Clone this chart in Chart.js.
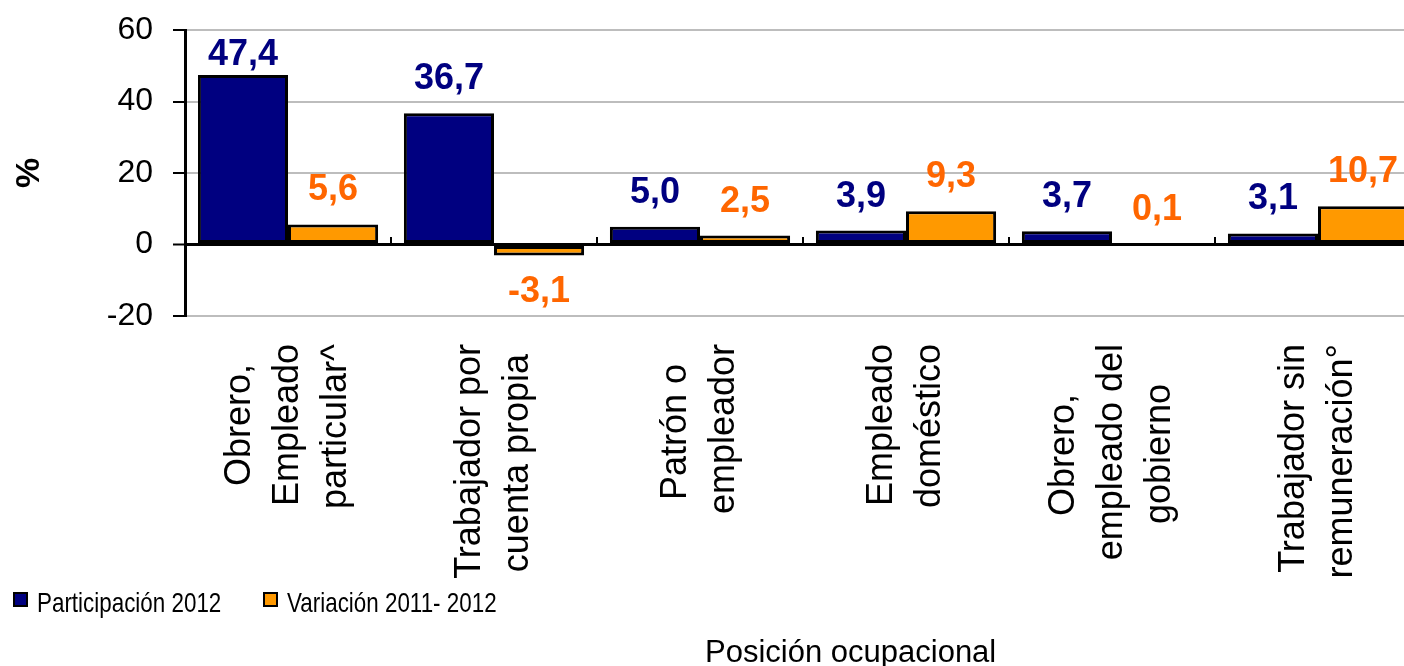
<!DOCTYPE html>
<html>
<head>
<meta charset="utf-8">
<script src="https://cdn.jsdelivr.net/npm/chart.js@4.4.0/dist/chart.umd.min.js"></script>
<style>
html, body { margin: 0; padding: 0; background: #fff; overflow: hidden; }
#wrap { position: relative; width: 1430px; height: 666px; }
#legend { position: absolute; left: 0; top: 590px; font-family: 'Liberation Sans', Arial, sans-serif; font-size: 28px; line-height: 28px; color: #000; white-space: nowrap; }
.item { position: absolute; top: 0; }
.box { position: absolute; top: 2px; left: 0; width: 15px; height: 15px; box-sizing: border-box; border: 2px solid #000; }
.lbl { position: absolute; left: 24px; top: -1px; transform: scaleX(0.8); transform-origin: 0 0; }
#xtitle { position: absolute; left: 705px; top: 636px; font-family: 'Liberation Sans', Arial, sans-serif; font-size: 31px; line-height: 31px; color: #000; white-space: nowrap; }
</style>
</head>
<body>
<div id="wrap">
  <canvas id="chart"></canvas>
  <div id="legend"></div>
  <div id="xtitle">Posición ocupacional</div>
</div>
<script>
// data
var categories = [
  ['Obrero,', 'Empleado', 'particular^'],
  ['Trabajador por', 'cuenta propia'],
  ['Patrón o', 'empleador'],
  ['Empleado', 'doméstico'],
  ['Obrero,', 'empleado del', 'gobierno'],
  ['Trabajador sin', 'remuneración°']
];
var participacion = [47.4, 36.7, 5.0, 3.9, 3.7, 3.1];
var variacion = [5.6, -3.1, 2.5, 9.3, 0.1, 10.7];
var seriesNames = ['Participación 2012', 'Variación 2011- 2012'];
var barColors = ['#000080', '#FF9900'];
var labelColors = ['#000080', '#FF6600'];
var legendX = [13, 263];

var FONT = '"Liberation Sans", Arial, sans-serif';

// legend
var legend = document.getElementById('legend');
seriesNames.forEach(function(name, i){
    var item = document.createElement('div');
    item.className = 'item';
    item.style.left = legendX[i] + 'px';
    var box = document.createElement('div');
    box.className = 'box';
    box.style.background = barColors[i];
    var lbl = document.createElement('div');
    lbl.className = 'lbl';
    lbl.textContent = name;
    item.appendChild(box);
    item.appendChild(lbl);
    legend.appendChild(item);
});

// pad lines with spaces so rotated multi-line labels look centred
var measure = document.createElement('canvas').getContext('2d');
measure.font = '36px ' + FONT;
function centerLines(lines){
    var widths = lines.map(function(l){ return measure.measureText(l).width; });
    var max = Math.max.apply(null, widths);
    var sp = measure.measureText(' ').width;
    return lines.map(function(l, k){
        return l + ' '.repeat(Math.round((max - widths[k]) / 2 / sp));
    });
}

function labelAxis(nLines, offset){
    return {
        type: 'category',
        position: {y: -20},
        offset: true,
        grid: {display: false, drawTicks: false, offset: true},
        border: {display: false},
        ticks: {
            autoSkip: false,
            minRotation: 90,
            maxRotation: 90,
            padding: 28,
            labelOffset: offset,
            color: '#000',
            font: {family: FONT, size: 36, lineHeight: '48px'},
            callback: function(value, index){
                var l = categories[index];
                return l.length === nLines ? centerLines(l) : '';
            }
        },
        afterFit: function(scale){ scale.paddingLeft = 0; scale.paddingRight = 0; }
    };
}

var valueLabels = {
    id: 'valueLabels',
    afterDatasetsDraw: function(chart){
        var ctx = chart.ctx;
        var top = chart.chartArea.top;
        ctx.save();
        ctx.font = 'bold 36px ' + FONT;
        ctx.textAlign = 'center';
        ctx.textBaseline = 'alphabetic';
        chart.data.datasets.forEach(function(ds, i){
            var meta = chart.getDatasetMeta(i);
            ctx.fillStyle = labelColors[i];
            meta.data.forEach(function(bar, j){
                var v = ds.data[j];
                var y = v >= 0 ? Math.max(bar.y - 24, top + 35) : bar.y + 46;
                ctx.fillText(v.toFixed(1).replace('.', ','), bar.x, y);
            });
        });
        ctx.restore();
    }
};

var ctx = document.getElementById('chart').getContext('2d');
var chart = new Chart(ctx, {
    type: 'bar',
    data: {
        labels: categories,
        datasets: [{
            label: seriesNames[0],
            data: participacion,
            backgroundColor: barColors[0],
            borderColor: '#000',
            borderWidth: 3,
            borderSkipped: false,
            categoryPercentage: 0.875,
            barPercentage: 1,
            xAxisID: 'x',
            yAxisID: 'y'
        }, {
            label: seriesNames[1],
            data: variacion,
            backgroundColor: barColors[1],
            borderColor: '#000',
            borderWidth: 3,
            borderSkipped: false,
            categoryPercentage: 0.875,
            barPercentage: 1,
            xAxisID: 'x',
            yAxisID: 'y'
        }]
    },
    options: {
        responsive: true,
        maintainAspectRatio: false,
        animation: false,
        layout: {padding: {top: 30, right: 9, bottom: 350, left: 0}},
        plugins: {
            legend: {display: false},
            tooltip: {enabled: false}
        },
        scales: {
            x: {
                type: 'category',
                position: 'bottom',
                offset: true,
                grid: {display: false, drawTicks: false, offset: true},
                border: {display: false},
                ticks: {display: false}
            },
            xt: {
                type: 'category',
                position: {y: 0},
                offset: true,
                grid: {display: true, offset: true, drawOnChartArea: false, drawTicks: true,
                       tickLength: -8, color: '#000', lineWidth: 2},
                border: {display: false},
                ticks: {display: false}
            },
            xl3: labelAxis(3, -48),
            xl2: labelAxis(2, -24),
            y: {
                position: 'left',
                min: -20,
                max: 60,
                ticks: {stepSize: 20, padding: 20, color: '#000', font: {family: FONT, size: 32}},
                grid: {
                    color: function(c){ return c.tick && c.tick.value === 0 ? '#000' : '#bdbdbd'; },
                    lineWidth: function(c){ return c.tick && c.tick.value === 0 ? 3 : 2; },
                    tickColor: '#000',
                    tickWidth: 2,
                    tickLength: 12
                },
                border: {color: '#000', width: 3},
                title: {display: true, text: '%', color: '#000', padding: {top: 9, bottom: 0},
                        font: {family: FONT, size: 34, weight: 'bold'}},
                afterFit: function(scale){
                    scale.width = 185;
                    scale.paddingTop = 0;
                    scale.paddingBottom = 0;
                }
            }
        }
    },
    plugins: [valueLabels]
});
</script>
</body>
</html>
